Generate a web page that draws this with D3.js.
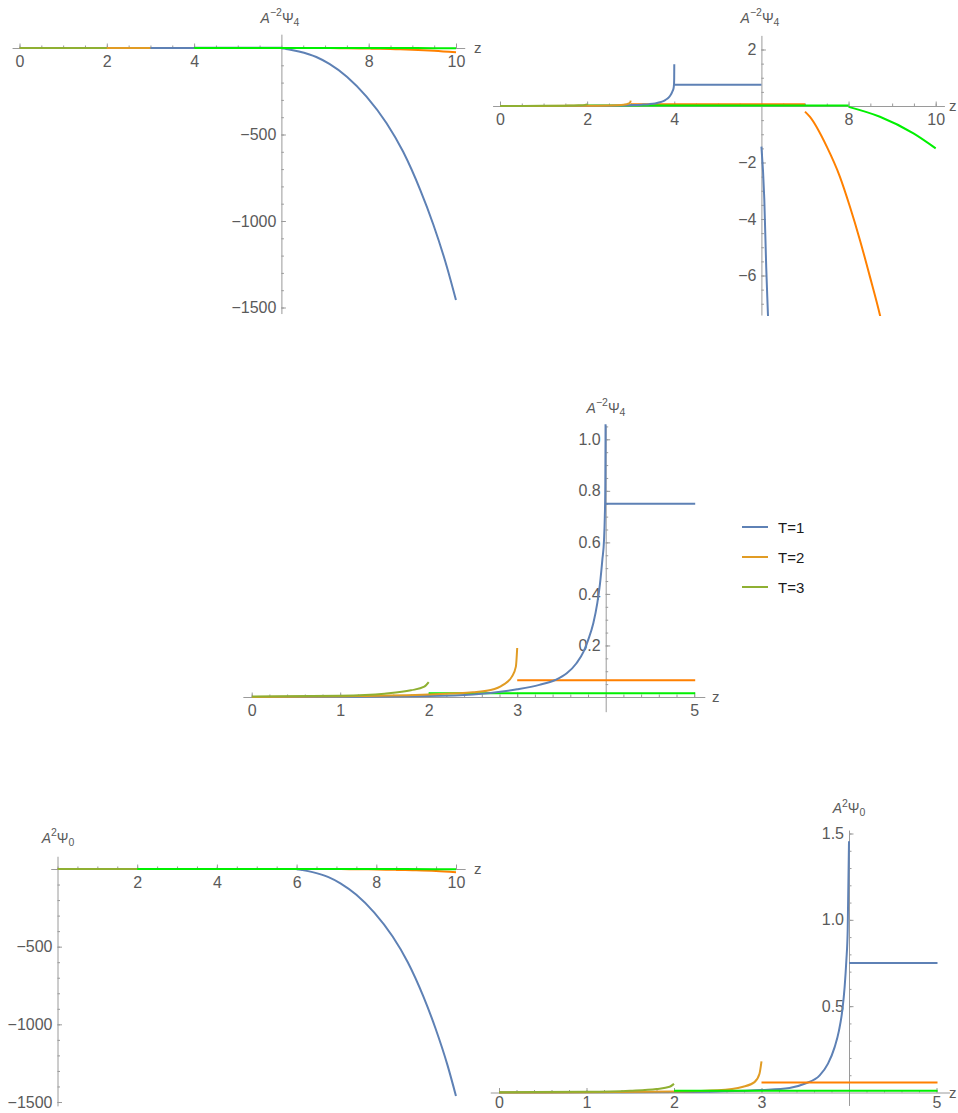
<!DOCTYPE html>
<html><head><meta charset="utf-8">
<script src="https://cdn.jsdelivr.net/npm/d3@7"></script>
<style>
body{margin:0;background:#fff}
svg{display:block;font-family:"Liberation Sans",Arial,sans-serif}
</style>
</head><body>
<svg id="c" width="958" height="1113"></svg>
<script>
// ---------------- DATA ----------------
const seriesNames = ["T=1", "T=2", "T=3"];

// A^-2 Psi_4 : inner pieces (z below the horizon) and outer pieces
const psi4BlueIn   = [[0,0],[1,0.001],[2,0.004],[2.5,0.01],[3,0.03],[3.25,0.047],[3.43,0.066],[3.56,0.092],[3.67,0.131],[3.75,0.176],[3.8,0.22],[3.86,0.286],[3.905,0.364],[3.936,0.441],[3.962,0.532],[3.981,0.609],[3.99,0.70],[3.995,0.8],[3.998,1.0],[4,1.48]];
const psi4OrangeIn = [[0,0],[1,0.003],[2,0.01],[2.5,0.018],[2.7,0.027],[2.84,0.047],[2.94,0.079],[2.985,0.118],[3,0.19]];
const psi4GreenIn  = [[0,0.002],[1,0.005],[1.5,0.013],[1.8,0.026],[1.95,0.04],[2,0.058]];
const psi4BlueOut   = [[4,0.75],[6,0.75],null,[6,-1.44],[6.066,-3.3],[6.11,-5.7],[6.15,-7.4],[6.4,-20],[6.8,-52],[7.1,-92],[7.5,-166],[7.95,-281],[8.41,-435],[8.79,-600],[9.18,-820],[9.48,-1020],[9.79,-1264],[10,-1457]];
const psi4OrangeOut = [[3,0.065],[7,0.065],null,[7,-0.2],[7.11,-0.38],[7.5,-1.44],[7.8,-2.5],[8.03,-3.56],[8.26,-4.74],[8.49,-6.04],[8.72,-7.4],[9,-9.5],[9.5,-15.5],[10,-25]];
const psi4GreenOut  = [[2,0.015],[8,0.015],null,[8,-0.03],[8.72,-0.38],[9.49,-0.97],[10,-1.5]];

// A^2 Psi_0
const psi0BlueIn   = [[0,0],[1,0.001],[2,0.003],[2.5,0.006],[3,0.014],[3.32,0.026],[3.5,0.052],[3.665,0.099],[3.76,0.167],[3.836,0.263],[3.886,0.36],[3.924,0.477],[3.95,0.61],[3.97,0.767],[3.985,0.94],[4,1.455]];
const psi0OrangeIn = [[0,0],[1,0.002],[2,0.006],[2.5,0.013],[2.79,0.033],[2.92,0.06],[2.977,0.109],[3,0.18]];
const psi0GreenIn  = [[0,0.002],[1,0.004],[1.5,0.01],[1.8,0.02],[1.95,0.033],[2,0.05]];
const psi0BlueOut   = [[4,0.75],[6,0.75],null,[6,-1.4],[6.066,-3.3],[6.11,-5.6],[6.15,-7.3],[6.4,-20],[6.8,-52],[7.1,-92],[7.5,-166],[7.95,-281],[8.41,-435],[8.79,-600],[9.18,-820],[9.48,-1022],[9.79,-1266],[10,-1462]];
const psi0OrangeOut = [[3,0.058],[7,0.058],null,[7,-0.2],[7.11,-0.36],[7.5,-1.3],[7.8,-2.3],[8.03,-3.3],[8.26,-4.4],[8.49,-5.6],[8.72,-6.9],[9,-8.8],[9.5,-13.5],[10,-21]];
const psi0GreenOut  = [[2,0.01],[8,0.01],null,[8,-0.03],[8.72,-0.36],[9.49,-0.93],[10,-1.45]];

// tick labels
const xTicksWideA = [0, 2, 4, 8, 10];
const xTicksWideD = [2, 4, 6, 8, 10];
const xTicksNarrow = [0, 1, 2, 3, 5];
const yTicksBig = [-500, -1000, -1500];
const yTicksB = [2, -2, -4, -6];
const yTicksC = [0.2, 0.4, 0.6, 0.8, 1.0];
const yTicksE = [0.5, 1.0, 1.5];

// ---------------- STYLE ----------------
const colBlue = "#5E81B5", colOrangeIn = "#E19C24", colGreenIn = "#8FB032";
const colOrangeOut = "#FF8000", colGreenOut = "#00F000";
const axisCol = "#9a9a9a", labelCol = "#5a5a5a";

const svg = d3.select("#c");
let clipId = 0;

function steps(lo, hi, step) {
  const a = Math.round(lo / step), b = Math.round(hi / step);
  return d3.range(a, b + 1).map(i => +(i * step).toFixed(6));
}

function panel(cfg) {
  const x = d3.scaleLinear().domain(cfg.xd).range(cfg.xr);
  const y = d3.scaleLinear().domain(cfg.yd).range(cfg.yr);
  const g = svg.append("g");
  const xAx = x.copy().domain(cfg.xExt).range(cfg.xExt.map(x));
  const yAx = y.copy().domain(cfg.yExt).range(cfg.yExt.map(y));
  const xPad = cfg.xPad === undefined ? 8 : cfg.xPad;

  // x-axis: minor then major
  const gx = g.append("g").attr("transform", `translate(0,${y(0)})`);
  gx.call(d3.axisBottom(xAx).tickValues(cfg.xMinor).tickSizeInner(-2.5).tickSizeOuter(0).tickFormat(""));
  const gx2 = g.append("g").attr("transform", `translate(0,${y(0)})`);
  gx2.call(d3.axisBottom(xAx).tickValues(cfg.xMajor).tickSizeInner(-4.5).tickSizeOuter(0).tickPadding(xPad).tickFormat(cfg.xFmt));
  gx2.select(".domain").remove();

  // y-axis
  const gy = g.append("g").attr("transform", `translate(${x(cfg.origin)},0)`);
  gy.call(d3.axisLeft(yAx).tickValues(cfg.yMinor).tickSizeInner(-2.5).tickSizeOuter(0).tickFormat(""));
  const gy2 = g.append("g").attr("transform", `translate(${x(cfg.origin)},0)`);
  gy2.call(d3.axisLeft(yAx).tickValues(cfg.yMajor).tickSizeInner(-4.5).tickSizeOuter(0).tickPadding(5).tickFormat(cfg.yFmt));
  gy2.select(".domain").remove();

  g.selectAll(".domain, .tick line").attr("stroke", axisCol).attr("stroke-width", 1);
  g.selectAll(".tick text").attr("fill", labelCol).attr("font-size", 16)
    .attr("font-family", '"Liberation Sans", Arial, sans-serif');

  // axis "z" label
  g.append("text").attr("x", cfg.zLab[0]).attr("y", cfg.zLab[1])
    .attr("fill", labelCol).attr("font-size", 15).text("z");

  // y label
  const t = g.append("text").attr("x", cfg.yLab[0]).attr("y", cfg.yLab[1])
    .attr("text-anchor", "middle").attr("fill", labelCol).attr("font-size", 14);
  t.append("tspan").attr("font-style", "italic").text("A");
  t.append("tspan").attr("font-size", 10.5).attr("dy", -6.5).text(cfg.sup);
  t.append("tspan").attr("dy", 6.5).text("Ψ");
  t.append("tspan").attr("font-size", 10.5).attr("dy", 3).text(cfg.sub);

  // clip
  const id = "clip" + (clipId++);
  const xc = cfg.clipX.map(x), yc = cfg.yExt.map(y);
  svg.append("clipPath").attr("id", id).append("rect")
    .attr("x", xc[0]).attr("y", Math.min(...yc) - 1)
    .attr("width", xc[1] - xc[0] + 1).attr("height", Math.abs(yc[1] - yc[0]) + 2);

  const line = d3.line().defined(d => d !== null)
    .x(d => x(d[0])).y(d => y(d[1])).curve(d3.curveMonotoneX);
  const gl = g.append("g").attr("clip-path", `url(#${id})`);
  cfg.series.forEach(s => {
    gl.append("path").datum(s.data).attr("d", line)
      .attr("fill", "none").attr("stroke", s.color).attr("stroke-width", 2)
      .attr("stroke-linejoin", "round");
  });
}

const fmtInt = d3.format("d"), fmt1 = d3.format(".1f");

const psi4Series = [
  {data: psi4BlueOut, color: colBlue},
  {data: psi4OrangeOut, color: colOrangeOut},
  {data: psi4GreenOut, color: colGreenOut},
  {data: psi4BlueIn, color: colBlue},
  {data: psi4OrangeIn, color: colOrangeIn},
  {data: psi4GreenIn, color: colGreenIn}
];
const psi0Series = [
  {data: psi0BlueIn, color: colBlue},
  {data: psi0OrangeIn, color: colOrangeIn},
  {data: psi0GreenIn, color: colGreenIn},
  {data: psi0BlueOut, color: colBlue},
  {data: psi0OrangeOut, color: colOrangeOut},
  {data: psi0GreenOut, color: colGreenOut}
];

// A: top-left
panel({
  xd: [0, 10], xr: [19.5, 456], yd: [0, -1500], yr: [48, 307.5], origin: 6,
  xExt: [-0.17, 10.2], yExt: [80, -1535], clipX: [0, 10],
  xMajor: xTicksWideA, xMinor: steps(0, 10, 0.5), yMajor: yTicksBig, yMinor: steps(-1500, -100, 100),
  xFmt: fmtInt, yFmt: fmtInt, zLab: [474, 52.5], yLab: [280, 22.5], sup: "−2", sub: "4",
  series: psi4Series
});
// B: top-right
panel({
  xd: [0, 10], xr: [500, 935.7], yd: [0, 2], yr: [106, 49.5], origin: 6,
  xExt: [-0.17, 10.2], yExt: [2.5, -7.4], clipX: [0, 10],
  xMajor: xTicksWideA, xMinor: steps(0, 10, 0.5), yMajor: yTicksB, yMinor: steps(-7, 2, 0.5),
  xFmt: fmtInt, yFmt: fmtInt, zLab: [949, 110.5], yLab: [760, 22.5], sup: "−2", sub: "4",
  series: psi4Series
});
// C: middle
panel({
  xd: [0, 5], xr: [251.7, 694.2], yd: [0, 1], yr: [697, 439.3], origin: 4,
  xExt: [-0.1, 5.12], yExt: [1.055, -0.057], clipX: [0, 5],
  xMajor: xTicksNarrow, xMinor: steps(0, 5, 0.2), yMajor: yTicksC, yMinor: steps(0.05, 1.05, 0.05),
  xFmt: fmtInt, yFmt: fmt1, zLab: [712, 701.5], yLab: [606, 412.5], sup: "−2", sub: "4",
  series: psi4Series
});
// D: bottom-left
panel({
  xd: [0, 10], xr: [57.5, 456], yd: [0, -1500], yr: [869, 1102], origin: 0,
  xExt: [-0.17, 10.23], yExt: [82, -1525], clipX: [0, 10],
  xMajor: xTicksWideD, xMinor: steps(0, 10, 0.5), yMajor: yTicksBig, yMinor: steps(-1500, -100, 100),
  xFmt: fmtInt, yFmt: fmtInt, zLab: [474, 873.5], yLab: [58, 842.5], sup: "2", sub: "0",
  series: psi0Series
});
// E: bottom-right
panel({
  xd: [0, 5], xr: [499, 936.5], yd: [0, 1.5], yr: [1092.5, 833.5], origin: 4,
  xExt: [-0.1, 5.15], yExt: [1.52, -0.075], clipX: [0, 5], xPad: 4,
  xMajor: xTicksNarrow, xMinor: steps(0, 5, 0.2), yMajor: yTicksE, yMinor: steps(0.1, 1.5, 0.1),
  xFmt: fmtInt, yFmt: fmt1, zLab: [949, 1097.5], yLab: [849, 813], sup: "2", sub: "0",
  series: psi0Series
});

// legend
const legColors = [colBlue, colOrangeIn, colGreenIn];
const leg = svg.append("g").attr("transform", "translate(742,527)");
seriesNames.forEach((n, i) => {
  const gi = leg.append("g").attr("transform", `translate(0,${i * 30})`);
  gi.append("line").attr("x1", 0).attr("x2", 26).attr("y1", 0).attr("y2", 0)
    .attr("stroke", legColors[i]).attr("stroke-width", 2);
  gi.append("text").attr("x", 36).attr("y", 5.5).attr("font-size", 15)
    .attr("fill", "#1a1a1a").text(n);
});
</script>
</body></html>
